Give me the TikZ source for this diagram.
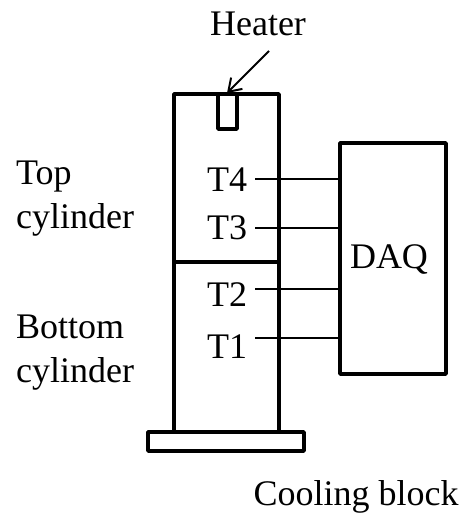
\documentclass[tikz,border=0pt]{standalone}
\usepackage{fontspec}
\setmainfont{Liberation Serif}
\usetikzlibrary{arrows.meta}
\tikzset{
  boxln/.style={line width=3.6pt,draw=black,line join=round},
  wire/.style={line width=2.8pt,draw=black},
  boxnode/.style={boxln,rectangle,inner sep=0pt,outer sep=0pt,anchor=north west},
  lbl/.style={inner sep=0pt,font=\fontsize{36}{44}\selectfont,text=black,anchor=base},
  multi/.style={inner sep=0pt,font=\fontsize{36}{44}\selectfont,text=black,align=left,anchor=north west}
}
\begin{document}
\begin{tikzpicture}[x=1pt,y=-1pt]
\useasboundingbox (0,0) rectangle (464,516);
\node[boxnode,minimum width=105pt,minimum height=338pt] (cyl) at (174,94) {};
\node[boxnode,minimum width=19pt,minimum height=35pt] (heat) at (218,94) {};
\node[boxnode,minimum width=106pt,minimum height=231pt] (daq) at (340,143) {};
\node[boxnode,minimum width=156pt,minimum height=19pt] (block) at (148,432) {};
\coordinate (divL) at (174,262);
\coordinate (divR) at (279,262);
\draw[boxln] (divL) -- (divR);
\node[lbl] (heater) at (258,36) {Heater};
\coordinate (arrS) at (269,51);
\coordinate (arrE) at (227,93);
\draw[line width=2pt,draw=black,-{Straight Barb[length=12pt,width=16pt]}] (arrS) -- (arrE);
\node[lbl] (t4) at (227,191) {T4};
\node[lbl] (t3) at (227,239) {T3};
\node[lbl] (t2) at (227,306) {T2};
\node[lbl] (t1) at (227,358) {T1};
\node[lbl] (dq) at (389,268) {DAQ};
\coordinate (a4) at (255,179);
\coordinate (a3) at (255,228);
\coordinate (a2) at (255,289);
\coordinate (a1) at (255,338);
\draw[wire] (a4) -- (a4 -| daq.west);
\draw[wire] (a3) -- (a3 -| daq.west);
\draw[wire] (a2) -- (a2 -| daq.west);
\draw[wire] (a1) -- (a1 -| daq.west);
\node[multi] (top) at (16,161) {Top\\cylinder};
\node[multi] (bot) at (16,315) {Bottom\\cylinder};
\node[lbl] (cool) at (356,505) {Cooling block};
\end{tikzpicture}
\end{document}
